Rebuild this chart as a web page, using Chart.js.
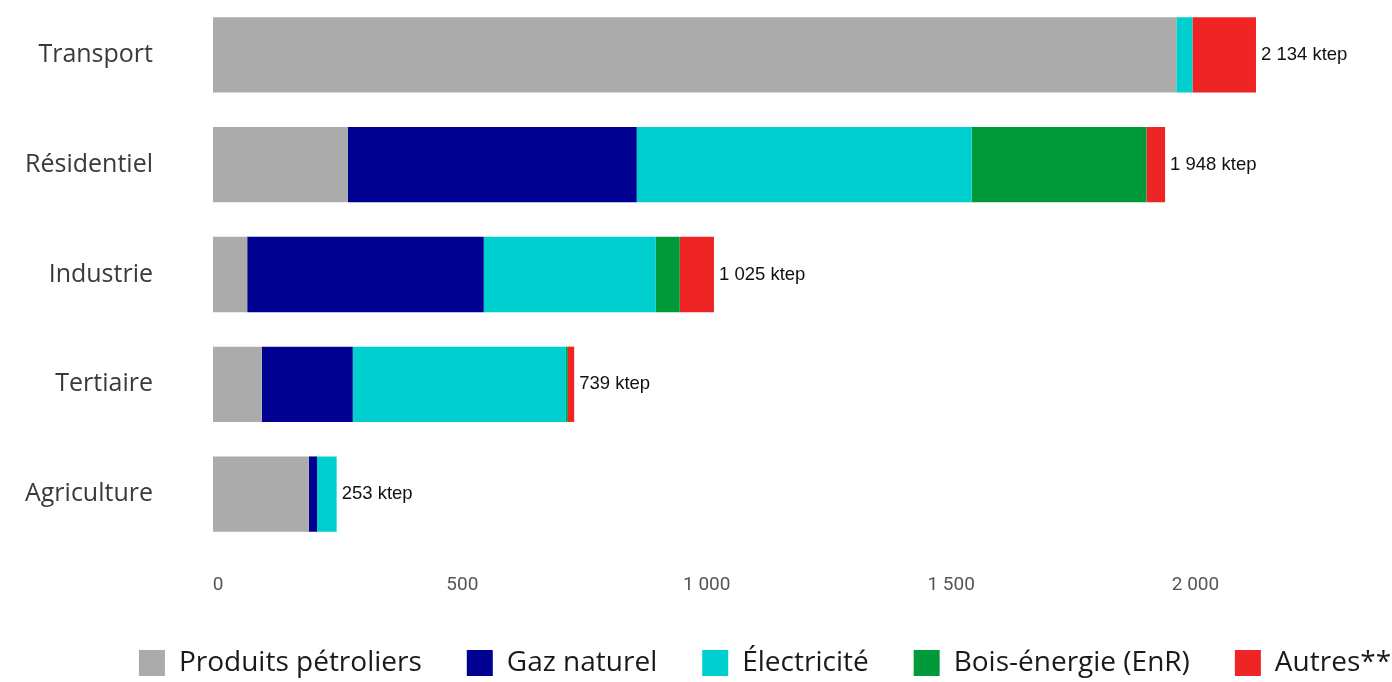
<!DOCTYPE html>
<html><head><meta charset="utf-8">
<script src="https://cdn.jsdelivr.net/npm/chart.js@4"></script>
<style>html,body{margin:0;padding:0;background:#fff}#wrap{width:1392px;height:682px;position:relative}</style>
</head><body><div id="wrap"><canvas id="c" width="1392" height="682"></canvas></div>
<script>
const categories = ["Transport", "Résidentiel", "Industrie", "Tertiaire", "Agriculture"];
const seriesNames = ["Produits pétroliers", "Gaz naturel", "Électricité", "Bois-énergie (EnR)", "Autres**"];
const produitsPetroliers = [1971, 276, 70, 100, 196];
const gazNaturel = [0, 591, 484, 186, 17];
const electricite = [33, 685, 352, 436, 40];
const boisEnergie = [0, 358, 49, 4, 0];
const autres = [130, 38, 70, 13, 0];
const totals = [2134, 1948, 1025, 739, 253];
const xTicks = [0, 500, 1000, 1500, 2000];
const colors = ["#ababab", "#000091", "#00cfcf", "#009a3a", "#ef2525"];

const fmt = v => String(v).replace(/\B(?=(\d{3})+(?!\d))/g, ' ');

const labelPlugin = {
  id: 'totals',
  afterLayout(chart) {
    // shift the legend to the right like in the reference
    chart.legend.left += 72;
    chart.legend.right += 72;
  },
  afterDatasetsDraw(chart) {
    const ctx = chart.ctx, xs = chart.scales.x, ys = chart.scales.y;
    ctx.save();
    ctx.font = '18.5px "Liberation Sans", Arial, sans-serif';
    ctx.fillStyle = '#111';
    ctx.textBaseline = 'middle';
    ctx.textAlign = 'left';
    totals.forEach((t, i) => {
      ctx.fillText(fmt(t) + ' ktep', xs.getPixelForValue(t) + 5, ys.getPixelForValue(i));
    });
    ctx.restore();
  }
};

const data = [produitsPetroliers, gazNaturel, electricite, boisEnergie, autres];
new Chart(document.getElementById('c'), {
  type: 'bar',
  data: {
    labels: categories,
    datasets: seriesNames.map((n, k) => ({
      label: n, data: data[k], backgroundColor: colors[k], borderWidth: 0,
      categoryPercentage: 1, barPercentage: 0.686
    }))
  },
  options: {
    indexAxis: 'y', responsive: false, animation: false,
    layout: { padding: { top: 0, right: 6, bottom: -5, left: 0 } },
    scales: {
      x: {
        stacked: true, min: 0, max: 2400,
        grid: { display: false }, border: { display: false },
        afterBuildTicks(scale) { scale.ticks = xTicks.map(v => ({ value: v })); },
        afterFit(scale) { scale.height = 55; scale.paddingLeft = 0; },
        ticks: { padding: 17, labelOffset: 5, color: '#555', font: { family: '"Liberation Sans Narrow", Roboto, sans-serif', size: 19 },
          callback: v => fmt(v) }
      },
      y: {
        stacked: true,
        grid: { display: false }, border: { display: false },
        afterFit(scale) { scale.width = 213; scale.paddingTop = 0; scale.paddingBottom = 0; },
        ticks: { padding: 52, color: '#3a3a3a', font: { family: '"Open Sans", sans-serif', size: 25 } }
      }
    },
    plugins: {
      legend: { position: 'bottom',
        labels: { boxWidth: 26, boxHeight: 26, padding: 45, color: '#1a1a1a',
          font: { family: '"Open Sans", sans-serif', size: 28 } } },
      tooltip: { enabled: false }
    }
  },
  plugins: [labelPlugin]
});
</script></body></html>
